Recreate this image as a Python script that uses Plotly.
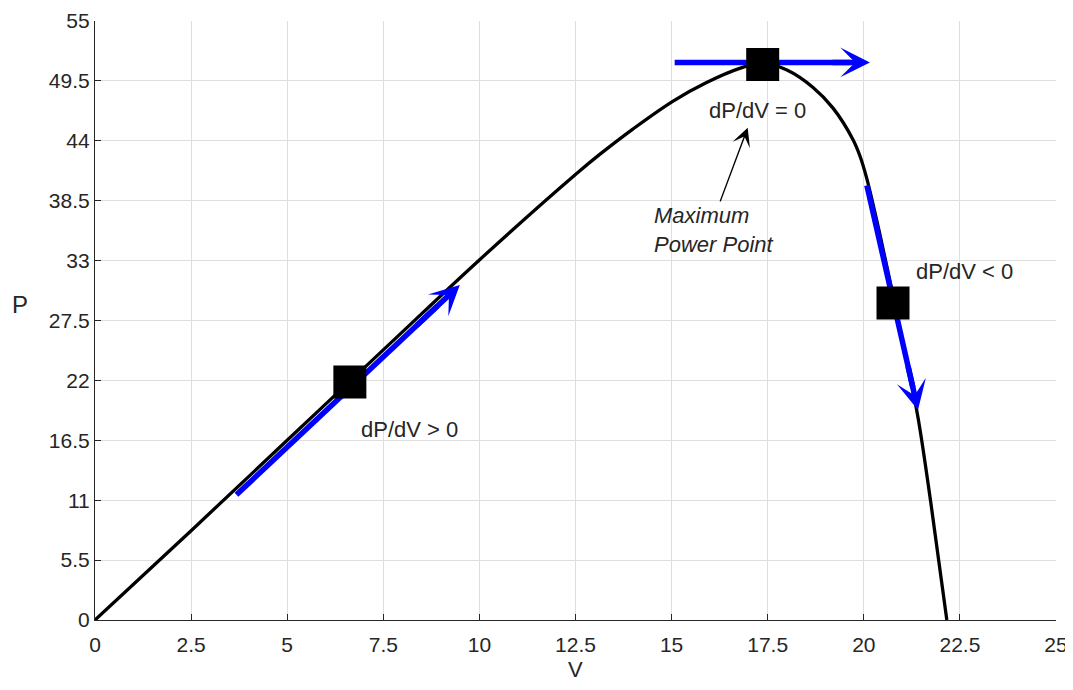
import plotly.graph_objects as go

# P-V curve of the PV module
V_curve = [0, 2.5, 5, 7.5, 10, 12.53, 13.13, 14.0, 15.04, 15.91, 16.77, 17.37,
           18.0, 18.68, 19.2, 19.72, 19.9, 20.08, 20.4, 20.76, 21.08, 21.41, 21.75, 22.16]
P_curve = [0, 8.2, 16.5, 24.8, 33.06, 41.0, 42.75, 45.1, 47.65, 49.35, 50.65, 51.15,
           50.5, 48.9, 47.0, 44.1, 42.6, 40.5, 35.7, 29.8, 24.4, 18.6, 10.6, 0]

# operating points (squares)
mark_v = [6.63, 17.37, 20.76]
mark_p = [21.85, 51.0, 29.1]

# blue direction arrows: tail -> head
arrow_tail_v = [3.68, 15.08, 20.08]
arrow_tail_p = [11.5, 51.2, 39.9]
arrow_head_v = [9.49, 20.16, 21.41]
arrow_head_p = [30.76, 51.2, 19.28]

# text labels
label_text = ["dP/dV > 0", "dP/dV = 0", "dP/dV < 0"]
label_v = [8.19, 17.24, 22.63]
label_p = [17.45, 46.74, 31.96]

mpp_text = "Maximum<br>Power Point"
mpp_v, mpp_p = 14.48, 35.77
mpp_arrow_tail = (16.25, 38.3)
mpp_arrow_head = (16.98, 45.2)

x_ticks = [0, 2.5, 5, 7.5, 10, 12.5, 15, 17.5, 20, 22.5, 25]
y_ticks = [0, 5.5, 11, 16.5, 22, 27.5, 33, 38.5, 44, 49.5, 55]

FONT = "Liberation Sans, Arial, sans-serif"
BLUE = "#0000ff"
TXT = "#262626"

fig = go.Figure()

fig.add_trace(go.Scatter(x=V_curve, y=P_curve, mode="lines",
                         line=dict(color="black", width=3.3, shape="spline", smoothing=1.0),
                         hoverinfo="skip", showlegend=False))

for tv, tp, hv, hp in zip(arrow_tail_v, arrow_tail_p, arrow_head_v, arrow_head_p):
    fig.add_trace(go.Scatter(x=[tv, tv + 0.9 * (hv - tv)], y=[tp, tp + 0.9 * (hp - tp)],
                             mode="lines", line=dict(color=BLUE, width=5.5),
                             hoverinfo="skip", showlegend=False))
    # arrowhead (annotation with a short shaft near the head)
    fig.add_annotation(x=hv, y=hp, ax=tv + 0.8 * (hv - tv), ay=tp + 0.8 * (hp - tp),
                       xref="x", yref="y", axref="x", ayref="y", text="",
                       showarrow=True, arrowhead=3, arrowsize=0.9, arrowwidth=5.5,
                       arrowcolor=BLUE, standoff=0)

fig.add_trace(go.Scatter(x=mark_v, y=mark_p, mode="markers",
                         marker=dict(symbol="square", size=33, color="black",
                                     line=dict(width=0)),
                         hoverinfo="skip", showlegend=False))

for t, v, p in zip(label_text, label_v, label_p):
    fig.add_annotation(x=v, y=p, xref="x", yref="y", text=t, showarrow=False,
                       font=dict(family=FONT, size=22, color=TXT))

fig.add_annotation(x=mpp_v, y=mpp_p, xref="x", yref="y", text="<i>" + mpp_text + "</i>",
                   showarrow=False, xanchor="left", align="left",
                   font=dict(family=FONT, size=22, color=TXT))
fig.add_annotation(x=mpp_arrow_head[0], y=mpp_arrow_head[1],
                   ax=mpp_arrow_tail[0], ay=mpp_arrow_tail[1],
                   xref="x", yref="y", axref="x", ayref="y", text="",
                   showarrow=True, arrowhead=3, arrowsize=2.2, arrowwidth=1.4,
                   arrowcolor="black", standoff=0)

# axis titles (placed in paper coordinates)
fig.add_annotation(x=-0.078, y=0.526, xref="paper", yref="paper", text="P",
                   showarrow=False, xanchor="center", yanchor="middle",
                   font=dict(family=FONT, size=24, color=TXT))
fig.add_annotation(x=0.5, y=-0.058, xref="paper", yref="paper", text="V",
                   showarrow=False, xanchor="center", yanchor="top",
                   font=dict(family=FONT, size=22, color=TXT))

axis_common = dict(showline=True, linecolor=TXT, linewidth=1.2,
                   ticks="inside", ticklen=6, tickcolor=TXT, tickwidth=1.2,
                   showgrid=True, gridcolor="#dedede", gridwidth=1,
                   zeroline=False, mirror=False, automargin=False,
                   tickfont=dict(family=FONT, size=21, color=TXT))

# page body has an 8px margin, so the figure is sized to fit the window
fig.update_layout(
    width=1065, height=682,
    margin=dict(l=87, r=17, t=13, b=70),
    paper_bgcolor="white", plot_bgcolor="white",
    xaxis=dict(range=[0, 25], tickvals=x_ticks, ticklabelstandoff=6, **axis_common),
    yaxis=dict(range=[0, 55], tickvals=y_ticks, ticklabelstandoff=0, **axis_common),
)

fig.write_html("out.html")
